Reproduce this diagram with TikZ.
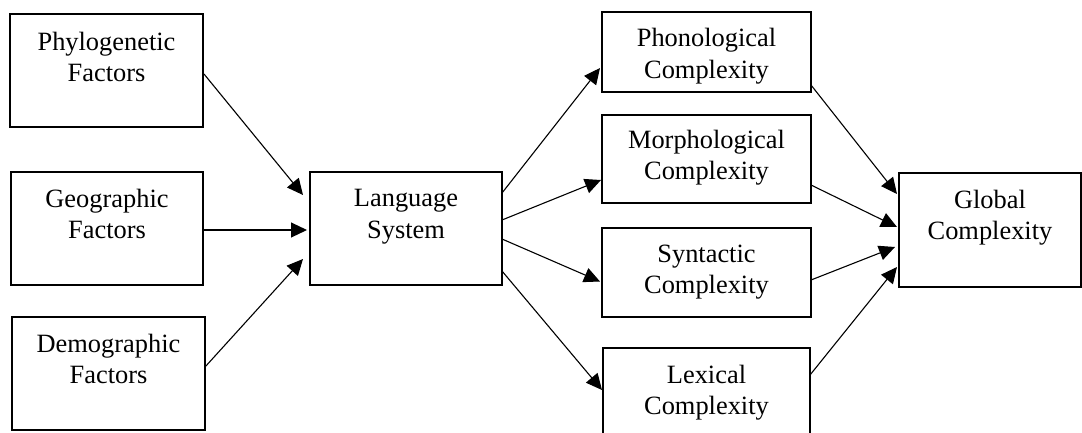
\documentclass[tikz,border=0pt]{standalone}
\usepackage{fontspec}
\setmainfont{Liberation Serif}
\usetikzlibrary{arrows.meta}
\begin{document}
\begin{tikzpicture}[x=1pt,y=-1pt,
  bx/.style={draw, line width=1.6pt, inner sep=0pt, outer sep=0pt},
  lbl/.style={align=center, inner sep=0pt, outer sep=0pt, anchor=north, font=\fontsize{26.4}{31.5}\selectfont},
  arr/.style={line width=1.1pt, -{Triangle[length=16pt,width=15pt]}}]
\clip (0,0) rectangle (1082,432);
\useasboundingbox (0,0) rectangle (1082,432);
% boxes
\node[bx, minimum width=193pt, minimum height=113pt] (phy) at (106.5,70.5) {};
\node[bx, minimum width=192pt, minimum height=113pt] (geo) at (107,228.5) {};
\node[bx, minimum width=193pt, minimum height=113pt] (dem) at (108.5,373.5) {};
\node[bx, minimum width=192pt, minimum height=113pt] (lang) at (406,228.5) {};
\node[bx, minimum width=209pt, minimum height=80pt] (pho) at (706.5,52) {};
\node[bx, minimum width=209pt, minimum height=88pt] (mor) at (706.5,159) {};
\node[bx, minimum width=209pt, minimum height=89pt] (syn) at (706.5,272.5) {};
\node[bx, minimum width=207pt, minimum height=92pt] (lex) at (706.5,394) {};
\node[bx, minimum width=182pt, minimum height=114pt] (glo) at (990,230) {};
% labels
\node[lbl] (phyT) at ([shift={(0,18)}]phy.north) {Phylogenetic\\Factors};
\node[lbl] (geoT) at ([shift={(0,17)}]geo.north) {Geographic\\Factors};
\node[lbl] (demT) at ([shift={(0,17)}]dem.north) {Demographic\\Factors};
\node[lbl] (langT) at ([shift={(0,17.5)}]lang.north) {Language\\System};
\node[lbl] (phoT) at ([shift={(0,16.5)}]pho.north) {Phonological\\Complexity};
\node[lbl] (morT) at ([shift={(0,15)}]mor.north) {Morphological\\Complexity};
\node[lbl] (synT) at ([shift={(0,17)}]syn.north) {Syntactic\\Complexity};
\node[lbl] (lexT) at ([shift={(0,17)}]lex.north) {Lexical\\Complexity};
\node[lbl] (gloT) at ([shift={(0,17)}]glo.north) {Global\\Complexity};
% arrows into language system
\draw[arr] ([shift={(1,3.5)}]phy.east) -- ([shift={(-7,-33.5)}]lang.west);
\draw[arr] ([shift={(0,1.5)}]geo.east) -- ([shift={(-3,1.5)}]lang.west);
\draw[arr] ([shift={(0,-6.5)}]dem.east) -- ([shift={(-7,30.5)}]lang.west);
% arrows out of language system
\draw[arr] ([shift={(0,-35.5)}]lang.east) -- ([shift={(-2,16)}]pho.west);
\draw[arr] ([shift={(0,-8.5)}]lang.east) -- ([shift={(-1,21)}]mor.west);
\draw[arr] ([shift={(0,10.5)}]lang.east) -- ([shift={(-2,9)}]syn.west);
\draw[arr] ([shift={(0,42.5)}]lang.east) -- ([shift={(-1,42)}]lex.north west);
% arrows into global
\draw[arr] ([shift={(0,33)}]pho.east) -- ([shift={(-2,-36)}]glo.west);
\draw[arr] ([shift={(0,26)}]mor.east) -- ([shift={(-2,-3)}]glo.west);
\draw[arr] ([shift={(0,7.5)}]syn.east) -- ([shift={(-4,17)}]glo.west);
\draw[arr] ([shift={(0,27)}]lex.north east) -- ([shift={(-2,37)}]glo.west);
\end{tikzpicture}
\end{document}
